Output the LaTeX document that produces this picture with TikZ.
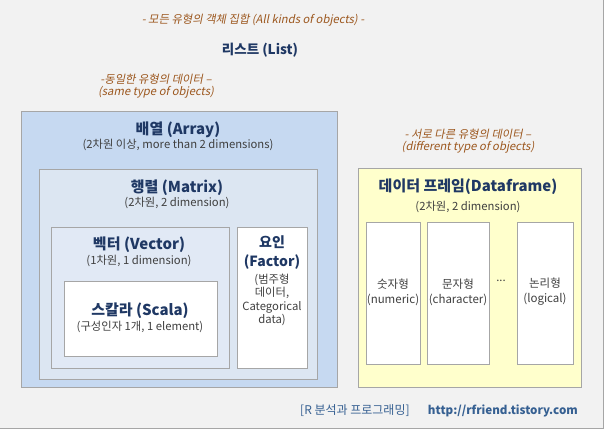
\documentclass[tikz,border=0pt]{standalone}
\usepackage{fontspec}
\setmainfont{Noto Sans CJK KR}
\newfontfamily\noteit[FakeSlant=0.2]{Noto Sans CJK KR}
\usetikzlibrary{positioning}

\definecolor{backgrey}{HTML}{F2F2F2}
\definecolor{frameline}{HTML}{A6A6A6}
\definecolor{arrayfill}{HTML}{C6D9F1}
\definecolor{matrixfill}{HTML}{DCE6F2}
\definecolor{vectorfill}{HTML}{E1E9F5}
\definecolor{dffill}{HTML}{FFFFCC}
\definecolor{titleblue}{HTML}{1F3864}
\definecolor{linkblue}{HTML}{366092}
\definecolor{subgrey}{HTML}{404040}
\definecolor{notebrown}{HTML}{9C571E}

\tikzset{
  box/.style = {draw=frameline, line width=0.9pt, inner sep=0pt, anchor=north west},
  head/.style = {text=titleblue, font=\bfseries\fontsize{15}{17}\selectfont, inner sep=0pt},
  sub/.style = {text=subgrey, font=\fontsize{11.3}{13.5}\selectfont, inner sep=0pt, align=center},
  note/.style = {text=notebrown, font=\noteit\fontsize{11.3}{12.5}\selectfont, inner sep=0pt, align=center},
}

\begin{document}
\begin{tikzpicture}[x=1pt, y=-1pt]
\useasboundingbox (0,0) rectangle (605,430);
\draw[fill=backgrey, draw=frameline, line width=0.9pt] (-2,-2) rectangle (603,428);

% boxes
\node[box, fill=arrayfill, minimum width=316pt, minimum height=276pt] (arr) at (21,111) {};
\node[box, fill=matrixfill, minimum width=278pt, minimum height=210pt] (mtx) at (39,169) {};
\node[box, fill=vectorfill, minimum width=178pt, minimum height=141pt] (vec) at (51,227) {};
\node[box, fill=white, minimum width=70pt, minimum height=141pt] (fac) at (237,227) {};
\node[box, fill=white, minimum width=153pt, minimum height=75pt] (scl) at (64,281) {};
\node[box, fill=dffill, minimum width=223pt, minimum height=219pt] (dfr) at (358,168) {};
\node[box, fill=white, minimum width=54pt, minimum height=142pt] (num) at (366,222) {};
\node[box, fill=white, minimum width=62pt, minimum height=142pt] (chr) at (427,222) {};
\node[box, fill=white, minimum width=56pt, minimum height=142pt] (lgc) at (517,222) {};

% texts
\node[note] (allnote) at (253,20) {- 모든 유형의 객체 집합 (All kinds of objects) -};
\node[head, font=\bfseries\fontsize{13.5}{16}\selectfont] (lst) at (260,50) {리스트 (List)};
\node[note] (samenote) at (156,86) {-동일한 유형의 데이터 –\\(same type of objects)};
\node[note] (diffnote) at (468,141) {- 서로 다른 유형의 데이터 –\\(different type of objects)};

\node[head] (arrhead) at (178,130) {배열 (Array)};
\node[sub] (arrsub) at (178,145) {(2차원 이상, more than 2 dimensions)};
\node[head] (mtxhead) at (177,188) {행렬 (Matrix)};
\node[sub] (mtxsub) at (177,203) {(2차원, 2 dimension)};
\node[head] (vechead) at (139,245) {벡터 (Vector)};
\node[sub] (vecsub) at (139,261) {(1차원, 1 dimension)};
\node[head] (sclhead) at (140,311) {스칼라 (Scala)};
\node[sub] (sclsub) at (140,327) {(구성인자 1개, 1 element)};
\node[head, align=center, font=\bfseries\fontsize{14}{19}\selectfont] (fachead) at (272,253) {요인\\(Factor)};
\node[sub] (facsub) at (272,300) {(범주형\\데이터,\\Categorical\\data)};

\node[head] (dfrhead) at (468,187) {데이터 프레임(Dataframe)};
\node[sub] (dfrsub) at (468,207) {(2차원, 2 dimension)};
\node[sub, font=\fontsize{11.5}{15}\selectfont] (numtxt) at (393,292) {숫자형\\(numeric)};
\node[sub, font=\fontsize{11.5}{15}\selectfont] (chrtxt) at (458,292) {문자형\\(character)};
\node[sub] (dots) at (501,281) {...};
\node[sub, font=\fontsize{11.5}{15}\selectfont] (lgctxt) at (545,292) {논리형\\(logical)};

\node[text=linkblue, font=\fontsize{12}{14}\selectfont, inner sep=0pt, anchor=west] (blog) at (300,411) {[R 분석과 프로그래밍]};
\node[text=linkblue, font=\bfseries\fontsize{11.6}{13}\selectfont, inner sep=0pt, anchor=east] (url) at (578,411) {http://rfriend.tistory.com};
\end{tikzpicture}
\end{document}
